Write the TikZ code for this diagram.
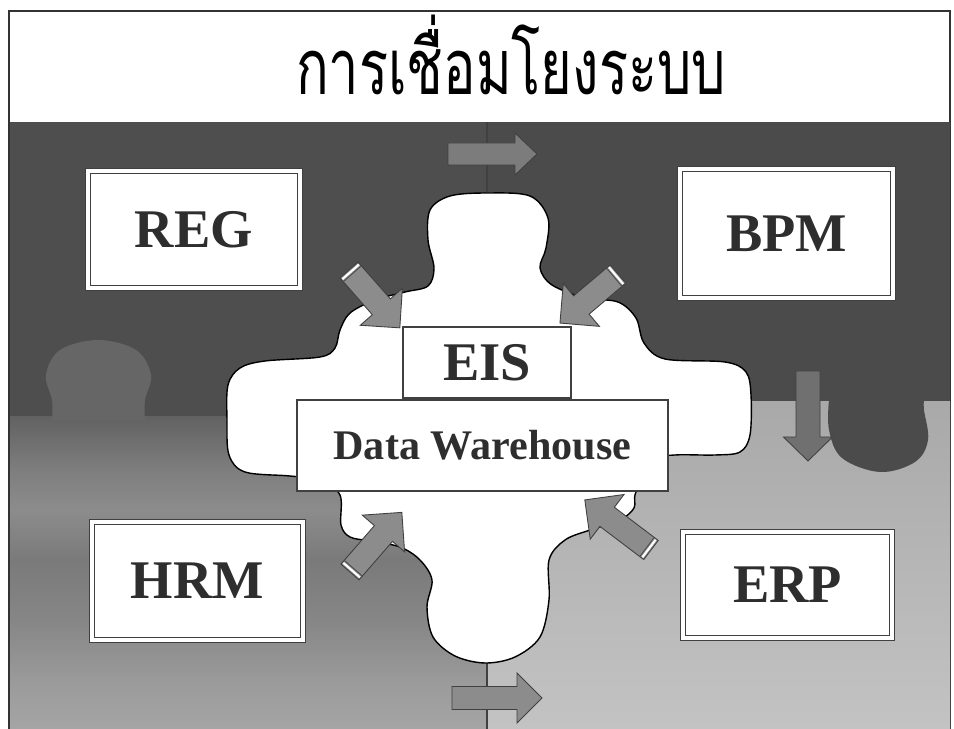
\documentclass[tikz,border=0pt]{standalone}
\usepackage{fontspec}
\setmainfont{Liberation Serif}
\newfontfamily\thaifont[Script=Thai]{Loma}
\definecolor{tlc}{HTML}{4E4E4E}
\definecolor{trc}{HTML}{4B4B4B}
\definecolor{tabl}{HTML}{666666}
\definecolor{blA}{HTML}{626262}
\definecolor{blB}{HTML}{7E7E7E}
\definecolor{blC}{HTML}{8C8C8C}
\definecolor{blD}{HTML}{7A7A7A}
\definecolor{blE}{HTML}{868686}
\definecolor{blF}{HTML}{9A9A9A}
\definecolor{blG}{HTML}{A5A5A5}
\definecolor{brtop}{HTML}{A9A9A9}
\definecolor{brbot}{HTML}{C3C3C3}
\definecolor{arrlight}{HTML}{7C7C7C}
\definecolor{arrmid}{HTML}{8C8C8C}
\definecolor{arrdark}{HTML}{707070}
\definecolor{txt}{HTML}{2E2E2E}
\pgfdeclareverticalshading{blshade}{100bp}{color(0bp)=(blG); color(25bp)=(blG); color(32.9bp)=(blF); color(42.5bp)=(blE); color(52.1bp)=(blD); color(60.1bp)=(blC); color(66.5bp)=(blB); color(75bp)=(blA); color(100bp)=(blA)}
\newcommand{\pxu}{0.02cm}
\newcommand{\blockarr}[8]{%
  \begin{scope}[shift={(#1,#2)}, rotate=#3]
    \filldraw[fill=#8, draw=black!75, line width=0.5pt, line join=miter]
      (0,-#5) -- ({#4-#7},-#5) -- ({#4-#7},-#6) -- (#4,0) -- ({#4-#7},#6) -- ({#4-#7},#5) -- (0,#5) -- cycle;
  \end{scope}}
\newcommand{\blockarrS}[8]{%
  \blockarr{#1}{#2}{#3}{#4}{#5}{#6}{#7}{#8}%
  \begin{scope}[shift={(#1,#2)}, rotate=#3]
    \draw[white, line width=1.2pt] (2.5,-#5+1) -- (2.5,#5-1);
    \draw[black!70, line width=0.5pt] (5,-#5) -- (5,#5);
  \end{scope}}
\tikzset{
  bigbox/.style={draw=black!75, double=white, double distance=2.2pt, line width=0.6pt,
    fill=white, inner sep=0pt, text=txt, font=\bfseries\fontsize{31}{31}\selectfont},
  midbox/.style={draw=black!75, line width=0.8pt, fill=white, inner sep=0pt, text=txt,
    font=\bfseries\fontsize{31}{31}\selectfont},
  dwbox/.style={draw=black!75, line width=0.8pt, fill=white, inner sep=0pt, text=txt,
    font=\bfseries\fontsize{24}{24}\selectfont},
}
\begin{document}
\begin{tikzpicture}[x=0.02cm, y=-0.02cm]
\useasboundingbox (0,0) rectangle (954,729);
\fill[white] (0,0) rectangle (954,729);
% frame
\draw[black!80, line width=0.8pt] (9,729) -- (9,11) -- (950,11) -- (950,729);
% quadrants
\fill[tlc] (10,122) rectangle (487,417);
\fill[trc] (487,122) rectangle (950,402);
\shade[shading=blshade] (10,417) rectangle (487,729);
\fill[tabl] plot[smooth, tension=0.6] coordinates {(52,420) (52,400) (46,375) (60,350) (98,340) (136,350) (151,375) (145,400) (145,420)} -- cycle;
\shade[top color=brtop, bottom color=brbot] (487,402) rectangle (950,729);
\fill[trc] plot[smooth, tension=0.6] coordinates {(829,400) (829,430) (842,458) (880,472) (915,462) (928,440) (924,410) (924,400)} -- cycle;
% divider
\draw[black!75, line width=0.6pt] (487,122) -- (487,729);
% cloud
\filldraw[fill=white, draw=black, line width=0.8pt] plot[smooth cycle, tension=0.55] coordinates {
 (487,193) (530,196) (548,218) (546,248) (540,268) (552,285) (585,298) (618,302) (636,318)
 (644,343) (665,359) (725,362) (746,372) (751,395) (750,435) (740,452) (715,455) (675,455)
 (655,460) (636,492) (634,508) (620,520) (590,530) (565,540) (549,560) (549,600) (540,637)
 (515,657) (485,663) (455,656) (433,637) (427,607) (432,580) (420,560) (400,547) (370,541)
 (350,537) (341,525) (340,495) (320,480) (290,476) (245,472) (229,455) (227,420) (228,385)
 (240,368) (265,361) (320,357) (335,348) (340,330) (350,313) (375,300) (405,292) (428,286)
 (434,268) (428,240) (430,210) (450,196)};
% arrows
\blockarr{448}{154}{0}{89}{11}{21}{22}{arrlight}
\blockarr{452}{698}{0}{90}{11.5}{25}{25}{arrmid}
\blockarr{808}{371}{-90}{90}{12}{24.5}{24}{arrdark}
\blockarrS{349}{270}{-48.7}{77}{12}{28}{28}{arrmid}
\blockarrS{618}{274}{-139.8}{76}{12}{28}{28}{arrmid}
\blockarrS{350}{572}{49}{79}{12}{28}{28}{arrmid}
\blockarrS{651}{550}{142.9}{83}{12}{28}{28}{arrmid}
% title
\node[xscale=0.7] (title) at (511,55) {\thaifont\fontsize{44}{44}\selectfont การเชื่อมโยงระบบ};
% boxes
\node[bigbox, minimum width=212*\pxu, minimum height=117*\pxu] (reg) at (194,229.5) {REG};
\node[bigbox, minimum width=213*\pxu, minimum height=129*\pxu] (bpm) at (786.5,233.5) {BPM};
\node[bigbox, minimum width=211*\pxu, minimum height=118*\pxu] (hrm) at (197.5,581) {HRM};
\node[bigbox, minimum width=209*\pxu, minimum height=106*\pxu] (erp) at (787.5,585) {ERP};
\node[midbox, minimum width=168*\pxu, minimum height=71*\pxu] (eis) at (487,362.5) {EIS};
\node[dwbox, minimum width=371*\pxu, minimum height=91*\pxu] (dw) at (482.5,445.5) {Data Warehouse};
\end{tikzpicture}
\end{document}
